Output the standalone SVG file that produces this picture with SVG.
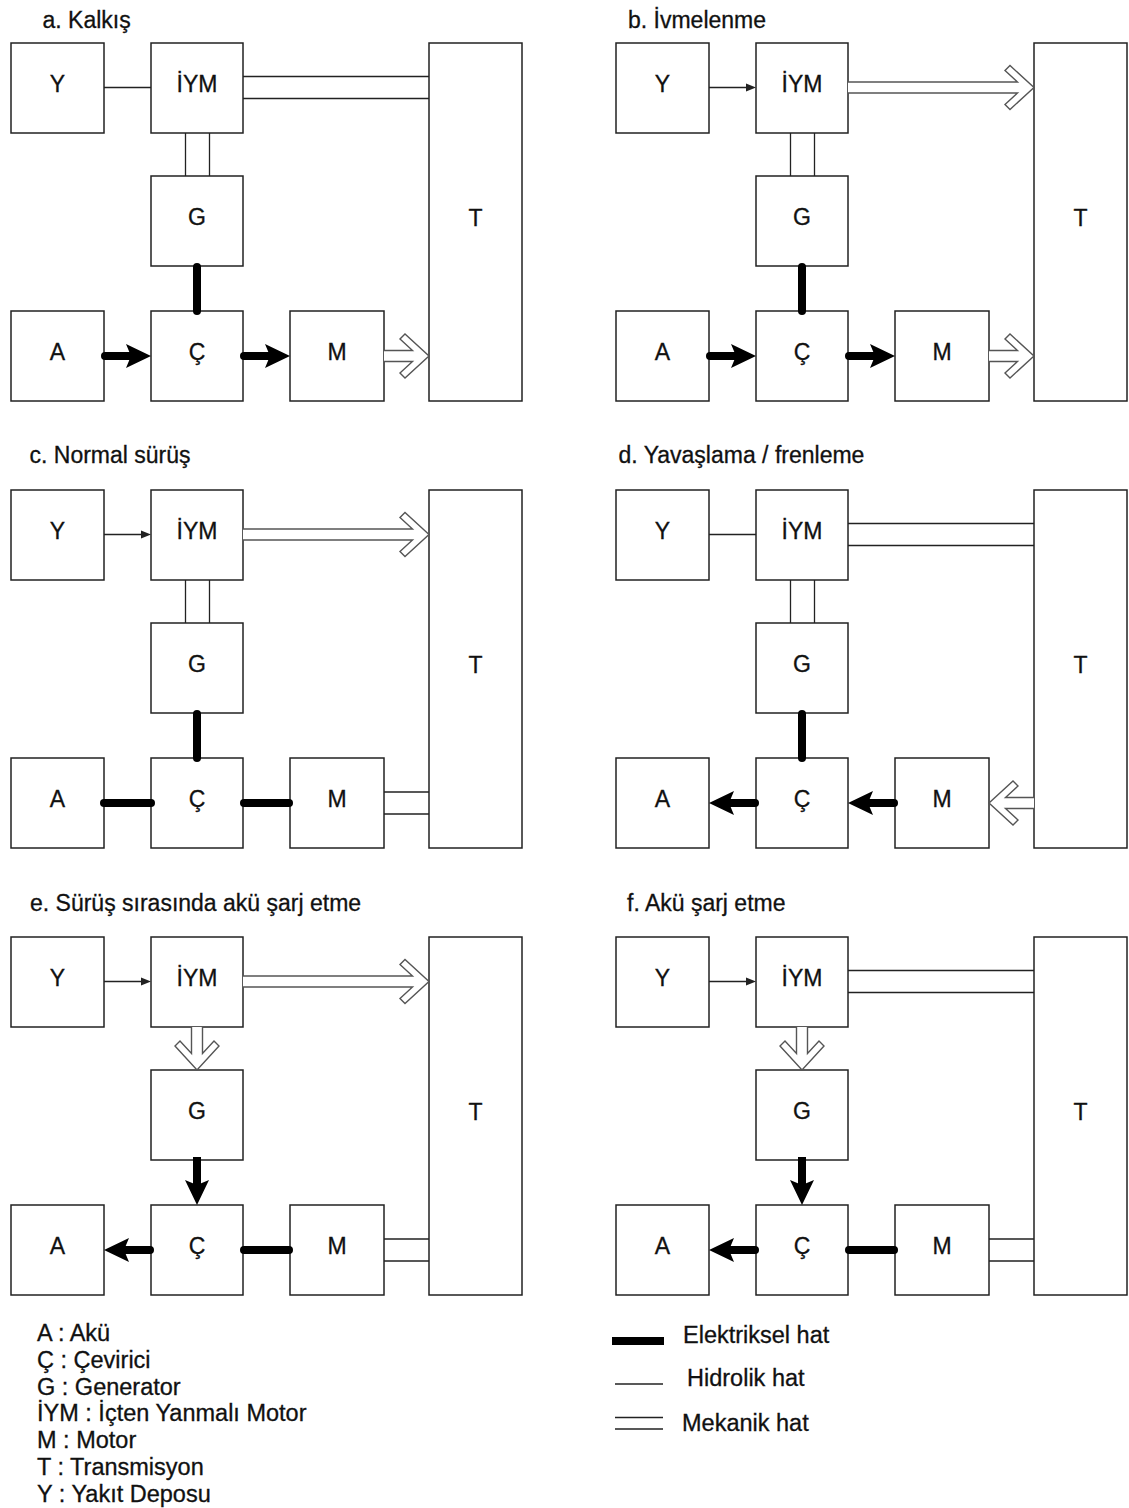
<svg xmlns="http://www.w3.org/2000/svg" width="1129" height="1508" viewBox="0 0 1129 1508">
<style>
  .box{fill:#fff;stroke:#222;stroke-width:1.5}
  .lbl{font-family:"Liberation Sans",Arial,sans-serif;font-size:23px;fill:#111;stroke:#111;stroke-width:0.3;text-anchor:middle}
  .ttl{font-family:"Liberation Sans",Arial,sans-serif;font-size:23px;fill:#111;stroke:#111;stroke-width:0.3}
  .leg{font-family:"Liberation Sans",Arial,sans-serif;font-size:23.5px;fill:#111;stroke:#111;stroke-width:0.3}
  .hyd{stroke:#222;stroke-width:1.3;fill:none}
  .mech{stroke:#222;stroke-width:1.3;fill:none}
  .elec{stroke:#000;stroke-width:8;stroke-linecap:round;fill:none}
  .elecb{stroke:#000;stroke-width:8;stroke-linecap:butt;fill:none}
  .head{fill:#000}
  .thin{fill:#222}
  .hollow{fill:#fff;stroke:#555;stroke-width:1.4;stroke-linejoin:miter}
</style>

<!-- Titles -->
<g id="titles">
  <text class="ttl" x="42.5" y="28">a. Kalkış</text>
  <text class="ttl" x="628" y="28">b. İvmelenme</text>
  <text class="ttl" x="29.5" y="463">c. Normal sürüş</text>
  <text class="ttl" x="618.5" y="463">d. Yavaşlama / frenleme</text>
  <text class="ttl" x="30" y="911">e. Sürüş sırasında akü şarj etme</text>
  <text class="ttl" x="627" y="911">f. Akü şarj etme</text>
</g>

<!-- Panel a -->
<g id="panel-a">
  <g id="a-Y"><rect class="box" x="11" y="43" width="93" height="90"/><text class="lbl" x="57.5" y="92">Y</text></g>
  <g id="a-IYM"><rect class="box" x="151" y="43" width="92" height="90"/><text class="lbl" x="197" y="92">İYM</text></g>
  <g id="a-G"><rect class="box" x="151" y="176" width="92" height="90"/><text class="lbl" x="197" y="225">G</text></g>
  <g id="a-A"><rect class="box" x="11" y="311" width="93" height="90"/><text class="lbl" x="57.5" y="360">A</text></g>
  <g id="a-C"><rect class="box" x="151" y="311" width="92" height="90"/><text class="lbl" x="197" y="360">Ç</text></g>
  <g id="a-M"><rect class="box" x="290" y="311" width="94" height="90"/><text class="lbl" x="337" y="360">M</text></g>
  <g id="a-T"><rect class="box" x="429" y="43" width="93" height="358"/><text class="lbl" x="475.5" y="226">T</text></g>
  <g id="a-connectors">
    <line class="hyd" x1="104" y1="87.5" x2="151" y2="87.5"/>
    <path class="mech" d="M243,76.5H429M243,98.5H429"/>
    <path class="mech" d="M185.5,133V176M209.5,133V176"/>
    <line class="elec" x1="197" y1="267" x2="197" y2="311"/>
    <line class="elec" x1="105" y1="356" x2="131" y2="356"/>
    <polygon class="head" points="151,356 126,344 131,356 126,368"/>
    <line class="elec" x1="244" y1="356" x2="270" y2="356"/>
    <polygon class="head" points="290,356 265,344 270,356 265,368"/>
    <path class="hollow" d="M384,350.5L412.5,350.5L400,339L405,334L429,356L405,378L400,373L412.5,361.5L384,361.5"/>
  </g>
</g>

<!-- Panel b -->
<g id="panel-b" transform="translate(605,0)">
  <g id="b-Y"><rect class="box" x="11" y="43" width="93" height="90"/><text class="lbl" x="57.5" y="92">Y</text></g>
  <g id="b-IYM"><rect class="box" x="151" y="43" width="92" height="90"/><text class="lbl" x="197" y="92">İYM</text></g>
  <g id="b-G"><rect class="box" x="151" y="176" width="92" height="90"/><text class="lbl" x="197" y="225">G</text></g>
  <g id="b-A"><rect class="box" x="11" y="311" width="93" height="90"/><text class="lbl" x="57.5" y="360">A</text></g>
  <g id="b-C"><rect class="box" x="151" y="311" width="92" height="90"/><text class="lbl" x="197" y="360">Ç</text></g>
  <g id="b-M"><rect class="box" x="290" y="311" width="94" height="90"/><text class="lbl" x="337" y="360">M</text></g>
  <g id="b-T"><rect class="box" x="429" y="43" width="93" height="358"/><text class="lbl" x="475.5" y="226">T</text></g>
  <g id="b-connectors">
    <line class="hyd" x1="104" y1="87.5" x2="142" y2="87.5"/>
    <polygon class="thin" points="151,87.5 141,83.5 141,91.5"/>
    <path class="hollow" d="M243,82L412.5,82L400,70.5L405,65.5L429,87.5L405,109.5L400,104.5L412.5,93L243,93"/>
    <path class="mech" d="M185.5,133V176M209.5,133V176"/>
    <line class="elec" x1="197" y1="267" x2="197" y2="311"/>
    <line class="elec" x1="105" y1="356" x2="131" y2="356"/>
    <polygon class="head" points="151,356 126,344 131,356 126,368"/>
    <line class="elec" x1="244" y1="356" x2="270" y2="356"/>
    <polygon class="head" points="290,356 265,344 270,356 265,368"/>
    <path class="hollow" d="M384,350.5L412.5,350.5L400,339L405,334L429,356L405,378L400,373L412.5,361.5L384,361.5"/>
  </g>
</g>

<!-- Panel c -->
<g id="panel-c" transform="translate(0,447)">
  <g id="c-Y"><rect class="box" x="11" y="43" width="93" height="90"/><text class="lbl" x="57.5" y="92">Y</text></g>
  <g id="c-IYM"><rect class="box" x="151" y="43" width="92" height="90"/><text class="lbl" x="197" y="92">İYM</text></g>
  <g id="c-G"><rect class="box" x="151" y="176" width="92" height="90"/><text class="lbl" x="197" y="225">G</text></g>
  <g id="c-A"><rect class="box" x="11" y="311" width="93" height="90"/><text class="lbl" x="57.5" y="360">A</text></g>
  <g id="c-C"><rect class="box" x="151" y="311" width="92" height="90"/><text class="lbl" x="197" y="360">Ç</text></g>
  <g id="c-M"><rect class="box" x="290" y="311" width="94" height="90"/><text class="lbl" x="337" y="360">M</text></g>
  <g id="c-T"><rect class="box" x="429" y="43" width="93" height="358"/><text class="lbl" x="475.5" y="226">T</text></g>
  <g id="c-connectors">
    <line class="hyd" x1="104" y1="87.5" x2="142" y2="87.5"/>
    <polygon class="thin" points="151,87.5 141,83.5 141,91.5"/>
    <path class="hollow" d="M243,82L412.5,82L400,70.5L405,65.5L429,87.5L405,109.5L400,104.5L412.5,93L243,93"/>
    <path class="mech" d="M185.5,133V176M209.5,133V176"/>
    <line class="elec" x1="197" y1="267" x2="197" y2="311"/>
    <line class="elec" x1="104" y1="356" x2="151" y2="356"/>
    <line class="elec" x1="244" y1="356" x2="289" y2="356"/>
    <path class="mech" d="M384,345H429M384,367H429"/>
  </g>
</g>

<!-- Panel d -->
<g id="panel-d" transform="translate(605,447)">
  <g id="d-Y"><rect class="box" x="11" y="43" width="93" height="90"/><text class="lbl" x="57.5" y="92">Y</text></g>
  <g id="d-IYM"><rect class="box" x="151" y="43" width="92" height="90"/><text class="lbl" x="197" y="92">İYM</text></g>
  <g id="d-G"><rect class="box" x="151" y="176" width="92" height="90"/><text class="lbl" x="197" y="225">G</text></g>
  <g id="d-A"><rect class="box" x="11" y="311" width="93" height="90"/><text class="lbl" x="57.5" y="360">A</text></g>
  <g id="d-C"><rect class="box" x="151" y="311" width="92" height="90"/><text class="lbl" x="197" y="360">Ç</text></g>
  <g id="d-M"><rect class="box" x="290" y="311" width="94" height="90"/><text class="lbl" x="337" y="360">M</text></g>
  <g id="d-T"><rect class="box" x="429" y="43" width="93" height="358"/><text class="lbl" x="475.5" y="226">T</text></g>
  <g id="d-connectors">
    <line class="hyd" x1="104" y1="87.5" x2="151" y2="87.5"/>
    <path class="mech" d="M243,76.5H429M243,98.5H429"/>
    <path class="mech" d="M185.5,133V176M209.5,133V176"/>
    <line class="elec" x1="197" y1="267" x2="197" y2="311"/>
    <line class="elec" x1="150" y1="356" x2="124" y2="356"/>
    <polygon class="head" points="104,356 129,344 124,356 129,368"/>
    <line class="elec" x1="289" y1="356" x2="263" y2="356"/>
    <polygon class="head" points="243,356 268,344 263,356 268,368"/>
    <path class="hollow" d="M429,350.5L400.5,350.5L413,339L408,334L384,356L408,378L413,373L400.5,361.5L429,361.5"/>
  </g>
</g>

<!-- Panel e -->
<g id="panel-e" transform="translate(0,894)">
  <g id="e-Y"><rect class="box" x="11" y="43" width="93" height="90"/><text class="lbl" x="57.5" y="92">Y</text></g>
  <g id="e-IYM"><rect class="box" x="151" y="43" width="92" height="90"/><text class="lbl" x="197" y="92">İYM</text></g>
  <g id="e-G"><rect class="box" x="151" y="176" width="92" height="90"/><text class="lbl" x="197" y="225">G</text></g>
  <g id="e-A"><rect class="box" x="11" y="311" width="93" height="90"/><text class="lbl" x="57.5" y="360">A</text></g>
  <g id="e-C"><rect class="box" x="151" y="311" width="92" height="90"/><text class="lbl" x="197" y="360">Ç</text></g>
  <g id="e-M"><rect class="box" x="290" y="311" width="94" height="90"/><text class="lbl" x="337" y="360">M</text></g>
  <g id="e-T"><rect class="box" x="429" y="43" width="93" height="358"/><text class="lbl" x="475.5" y="226">T</text></g>
  <g id="e-connectors">
    <line class="hyd" x1="104" y1="87.5" x2="142" y2="87.5"/>
    <polygon class="thin" points="151,87.5 141,83.5 141,91.5"/>
    <path class="hollow" d="M243,82L412.5,82L400,70.5L405,65.5L429,87.5L405,109.5L400,104.5L412.5,93L243,93"/>
    <path class="hollow" d="M191.5,133V159.5L180,147L175,152L197,176L219,152L214,147L202.5,159.5V133"/>
    <line class="elecb" x1="197" y1="263" x2="197" y2="291"/>
    <polygon class="head" points="197,311 185,286 197,291 209,286"/>
    <line class="elec" x1="150" y1="356" x2="124" y2="356"/>
    <polygon class="head" points="104,356 129,344 124,356 129,368"/>
    <line class="elec" x1="244" y1="356" x2="289" y2="356"/>
    <path class="mech" d="M384,345H429M384,367H429"/>
  </g>
</g>

<!-- Panel f -->
<g id="panel-f" transform="translate(605,894)">
  <g id="f-Y"><rect class="box" x="11" y="43" width="93" height="90"/><text class="lbl" x="57.5" y="92">Y</text></g>
  <g id="f-IYM"><rect class="box" x="151" y="43" width="92" height="90"/><text class="lbl" x="197" y="92">İYM</text></g>
  <g id="f-G"><rect class="box" x="151" y="176" width="92" height="90"/><text class="lbl" x="197" y="225">G</text></g>
  <g id="f-A"><rect class="box" x="11" y="311" width="93" height="90"/><text class="lbl" x="57.5" y="360">A</text></g>
  <g id="f-C"><rect class="box" x="151" y="311" width="92" height="90"/><text class="lbl" x="197" y="360">Ç</text></g>
  <g id="f-M"><rect class="box" x="290" y="311" width="94" height="90"/><text class="lbl" x="337" y="360">M</text></g>
  <g id="f-T"><rect class="box" x="429" y="43" width="93" height="358"/><text class="lbl" x="475.5" y="226">T</text></g>
  <g id="f-connectors">
    <line class="hyd" x1="104" y1="87.5" x2="142" y2="87.5"/>
    <polygon class="thin" points="151,87.5 141,83.5 141,91.5"/>
    <path class="mech" d="M243,76.5H429M243,98.5H429"/>
    <path class="hollow" d="M191.5,133V159.5L180,147L175,152L197,176L219,152L214,147L202.5,159.5V133"/>
    <line class="elecb" x1="197" y1="263" x2="197" y2="291"/>
    <polygon class="head" points="197,311 185,286 197,291 209,286"/>
    <line class="elec" x1="150" y1="356" x2="124" y2="356"/>
    <polygon class="head" points="104,356 129,344 124,356 129,368"/>
    <line class="elec" x1="244" y1="356" x2="289" y2="356"/>
    <path class="mech" d="M384,345H429M384,367H429"/>
  </g>
</g>

<!-- Legend: abbreviations -->
<g id="legend-abbr">
  <text class="leg" x="37" y="1341">A : Akü</text>
  <text class="leg" x="37" y="1367.8">Ç : Çevirici</text>
  <text class="leg" x="37" y="1394.6">G : Generator</text>
  <text class="leg" x="37" y="1421.4">İYM : İçten Yanmalı Motor</text>
  <text class="leg" x="37" y="1448.2">M : Motor</text>
  <text class="leg" x="37" y="1475">T : Transmisyon</text>
  <text class="leg" x="37" y="1501.8">Y : Yakıt Deposu</text>
</g>

<!-- Legend: line types -->
<g id="legend-lines">
  <line class="elecb" x1="612" y1="1341" x2="664" y2="1341"/>
  <text class="leg" x="683" y="1343">Elektriksel hat</text>
  <line class="hyd" x1="615" y1="1384" x2="663" y2="1384"/>
  <text class="leg" x="687" y="1386">Hidrolik hat</text>
  <path class="mech" d="M615,1417.5H663M615,1429H663"/>
  <text class="leg" x="682" y="1431">Mekanik hat</text>
</g>
</svg>
